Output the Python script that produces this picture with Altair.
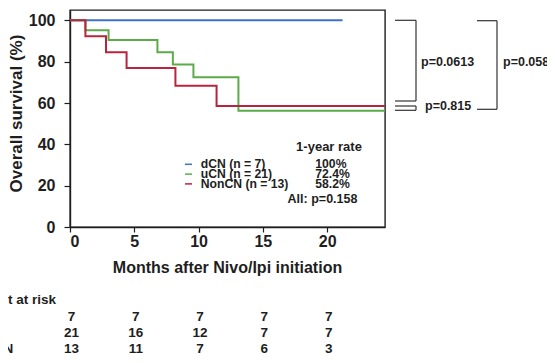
import altair as alt
import pandas as pd

# ---- data ----
dcn_t = [0, 21.2]
dcn_s = [100, 100]
ucn_t = [0, 1.2, 3.0, 6.8, 8.0, 9.6, 13.1, 24.5]
ucn_s = [100, 95.2, 90.5, 84.6, 78.6, 72.4, 56.2, 56.2]
non_t = [0, 1.2, 2.8, 4.4, 8.2, 11.4, 24.5]
non_s = [100, 92.3, 84.6, 76.9, 68.4, 58.6, 58.6]

groups = ["dCN", "uCN", "NonCN"]
group_labels = ["dCN (n = 7)", "uCN (n = 21)", "NonCN (n = 13)"]
rates = ["100%", "72.4%", "58.2%"]
colors = ["#3d72c8", "#5cab4a", "#b8243e"]

risk_months = [0, 5, 10, 15, 20]
risk_dcn = [7, 7, 7, 7, 7]
risk_ucn = [21, 16, 12, 7, 7]
risk_non = [13, 11, 7, 6, 3]

pvals = ["p=0.0613", "p=0.815", "p=0.0587"]
overall_p = "All: p=0.158"

FONT = "Liberation Sans"
INK = "#1e1e1e"

xscale = alt.Scale(domain=[0, 24.5], nice=False, zero=False)
yscale = alt.Scale(domain=[0, 105], nice=False)

series = {"dCN": (dcn_t, dcn_s), "uCN": (ucn_t, ucn_s), "NonCN": (non_t, non_s)}

layers = []
for g, col in zip(groups, colors):
    t, s = series[g]
    df = pd.DataFrame({"t": t, "s": s})
    layers.append(
        alt.Chart(df).mark_line(interpolate="step-after", strokeWidth=2, color=col).encode(
            x=alt.X("t:Q", scale=xscale,
                    axis=alt.Axis(values=risk_months, title="Months after Nivo/Ipi initiation",
                                  titleX=157, titleY=40, titleBaseline="middle",
                                  labelPadding=1, tickSize=5)),
            y=alt.Y("s:Q", scale=yscale,
                    axis=alt.Axis(values=[0, 20, 40, 60, 80, 100], title="Overall survival (%)",
                                  titleX=-54, titleY=103, titleAngle=270, titleAlign="center",
                                  titleBaseline="middle", labelPadding=9, tickSize=6)),
        )
    )

def txt(x, y, s, size=12.5, align="left"):
    return alt.Chart(pd.DataFrame({"a": [0]})).mark_text(
        font=FONT, fontWeight="bold", fontSize=size, color=INK, align=align, baseline="middle"
    ).encode(x=alt.value(x), y=alt.value(y), text=alt.value(s))

def rule(x, x2, y, y2, col="#333333", w=1.2):
    return alt.Chart(pd.DataFrame({"a": [0]})).mark_rule(color=col, strokeWidth=w).encode(
        x=alt.value(x), x2=alt.value(x2), y=alt.value(y), y2=alt.value(y2))

# legend inside plot
layers.append(txt(259, 137, "1-year rate", size=13, align="center"))
for i, (lab, rate, col) in enumerate(zip(group_labels, rates, colors)):
    yy = 154.3 + 9.8 * i
    layers.append(rule(115, 122, yy, yy, col=col, w=1.5))
    layers.append(txt(130.7, yy, lab, size=12.2))
    layers.append(txt(245.3, yy, rate, size=12.2))
layers.append(txt(252.5, 189, overall_p, align="center"))

# brackets
for y in [10.3, 91]:
    layers.append(rule(325, 346, y, y))
layers.append(rule(346, 346, 10.3, 91))
for y in [96, 100.3]:
    layers.append(rule(325, 346, y, y))
layers.append(rule(346, 346, 96, 100.3))
for y in [10.7, 99.3]:
    layers.append(rule(407, 427, y, y))
layers.append(rule(427, 427, 10.7, 99.3))
layers.append(txt(351, 51.7, pvals[0]))
layers.append(txt(355, 96, pvals[1]))
layers.append(txt(433, 52, pvals[2]))

# number at risk table
layers.append(txt(-102.5, 290, "Patient at risk", size=13.5))
row_y = [306.5, 322.5, 338.5]
for g, counts, yy in zip(groups, [risk_dcn, risk_ucn, risk_non], row_y):
    layers.append(txt(-102.5, yy, g, size=13.5))
    rdf = pd.DataFrame({"m": risk_months, "n": counts})
    layers.append(
        alt.Chart(rdf).mark_text(font=FONT, fontWeight="bold", fontSize=13.5, color=INK,
                                 baseline="middle", dx=1.5).encode(
            x=alt.X("m:Q", scale=xscale), y=alt.value(yy), text="n:Q")
    )

chart = alt.layer(*layers).properties(
    width=315, height=217,
    autosize=alt.AutoSizeParams(type="none"),
    padding={"left": 62, "top": 2, "right": 162, "bottom": 128},
).configure_view(
    stroke=INK, strokeWidth=1.4
).configure_axis(
    labelFont=FONT, labelFontWeight="bold", labelFontSize=16, labelColor=INK,
    titleFont=FONT, titleFontWeight="bold", titleFontSize=16, titleColor=INK,
    domainColor=INK, domainWidth=1.4, tickColor=INK, tickWidth=1.2, grid=False,
).configure_axisY(titleFontSize=17)

chart.save("out.html", embed_options={"renderer": "svg", "actions": False})
